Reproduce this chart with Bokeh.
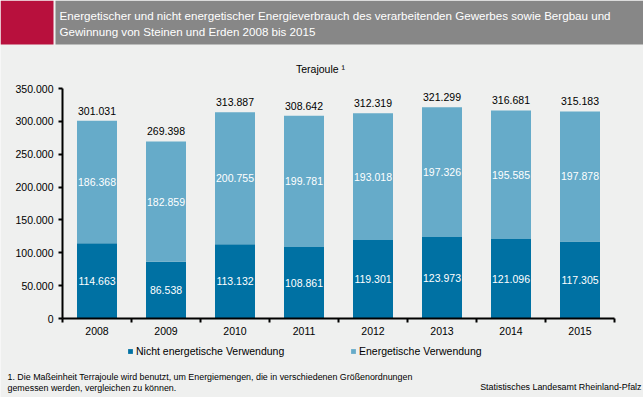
from bokeh.plotting import figure
from bokeh.models import (Range1d, FixedTicker, Label, BoxAnnotation, Legend, LegendItem,
                          ColumnDataSource)
from bokeh.core.properties import value
from bokeh.embed import file_html
from bokeh.resources import INLINE

# ---------------- data ----------------
years = ["2008", "2009", "2010", "2011", "2012", "2013", "2014", "2015"]
nicht_energetisch = [114663, 86538, 113132, 108861, 119301, 123973, 121096, 117305]
energetisch = [186368, 182859, 200755, 199781, 193018, 197326, 195585, 197878]
totals = [301031, 269398, 313887, 308642, 312319, 321299, 316681, 315183]
y_ticks = [0, 50000, 100000, 150000, 200000, 250000, 300000, 350000]
series_names = ["Nicht energetische Verwendung", "Energetische Verwendung"]
title_lines = ["Energetischer und nicht energetischer Energieverbrauch des verarbeitenden Gewerbes sowie Bergbau und",
               "Gewinnung von Steinen und Erden 2008 bis 2015"]
unit_text = "Terajoule \u00b9"
footnote_lines = ["1. Die Maßeinheit Terrajoule wird benutzt, um Energiemengen, die in verschiedenen Größenordnungen",
                  "gemessen werden, vergleichen zu können."]
source_text = "Statistisches Landesamt Rheinland-Pfalz"

# ---------------- layout / styles ----------------
W, H = 643, 397
AX_LEFT, AX_TOP, AX_BOTTOM, STEP = 62, 88, 318, 69   # pixel geometry of the plot area
Y_MAX = 350000
BG = "#EFF0EF"
DARK = "#0071A3"
LIGHT = "#66ABC9"
FONT_NAME = "Liberation Sans"
FONT = value(FONT_NAME)


def de(v):
    return f"{v:,}".replace(",", ".")


xs = list(range(len(years)))
src = ColumnDataSource(dict(
    x=xs,
    nicht=nicht_energetisch,
    top=[a + b for a, b in zip(nicht_energetisch, energetisch)],
    total=totals,
    mid_low=[a / 2 for a in nicht_energetisch],
    mid_up=[a + b / 2 for a, b in zip(nicht_energetisch, energetisch)],
    lab_low=[de(v) for v in nicht_energetisch],
    lab_up=[de(v) for v in energetisch],
    lab_tot=[de(v) for v in totals],
))

# whole canvas is the frame; ranges extended so the chart area sits at the right pixels
x0 = -0.5 - AX_LEFT / STEP
x1 = x0 + W / STEP
ppu = (AX_BOTTOM - AX_TOP) / Y_MAX
y0 = -(H - AX_BOTTOM) / ppu
y1 = Y_MAX + AX_TOP / ppu

p = figure(width=W, height=H, output_backend="svg", toolbar_location=None,
           x_range=Range1d(x0, x1), y_range=Range1d(y0, y1),
           min_border=0, background_fill_color=BG, border_fill_color=BG, outline_line_color=None)
p.xgrid.visible = False
p.ygrid.visible = False

r1 = p.vbar(x="x", width=40 / STEP, bottom=0, top="nicht", source=src, fill_color=DARK, line_color=None)
r2 = p.vbar(x="x", width=40 / STEP, bottom="nicht", top="top", source=src, fill_color=LIGHT, line_color=None)

p.text(x="x", y="mid_low", text="lab_low", source=src, text_align="center", text_baseline="middle",
       text_font=FONT, text_font_size="10.5px", text_color="white")
p.text(x="x", y="mid_up", text="lab_up", source=src, text_align="center", text_baseline="middle",
       text_font=FONT, text_font_size="10.5px", text_color="white")
p.text(x="x", y="total", text="lab_tot", source=src, text_align="center", text_baseline="middle",
       y_offset=-10, text_font=FONT, text_font_size="10.5px", text_color="black")

# axes (fixed inside the frame)
ya = p.yaxis[0]
ya.fixed_location = -0.5
ya.bounds = (0, Y_MAX)
ya.ticker = FixedTicker(ticks=y_ticks)
ya.major_label_overrides = {t: de(t) for t in y_ticks}
ya.minor_tick_line_color = None
ya.major_tick_in = 0
ya.major_tick_out = 4
ya.major_tick_line_width = 2
ya.axis_line_width = 2
ya.major_label_text_font = FONT_NAME
ya.major_label_text_font_size = "10.5px"
ya.major_label_text_color = "black"
ya.major_label_standoff = 5

xa = p.xaxis[0]
xa.fixed_location = 0
xa.bounds = (-0.5, len(years) - 0.5)
xa.ticker = FixedTicker(ticks=xs, minor_ticks=[i - 0.5 for i in range(len(years) + 1)])
xa.major_label_overrides = {i: y for i, y in zip(xs, years)}
xa.major_tick_line_color = None
xa.major_tick_in = 0
xa.major_tick_out = 0
xa.minor_tick_in = 0
xa.minor_tick_out = 4
xa.minor_tick_line_width = 2
xa.axis_line_width = 2
xa.major_label_text_font = FONT_NAME
xa.major_label_text_font_size = "10.5px"
xa.major_label_text_color = "black"
xa.major_label_standoff = 4


def sy(abs_y):
    return H - abs_y


# header
p.add_layout(BoxAnnotation(left=0, right=53, top=sy(0), bottom=sy(44), left_units="screen",
                           right_units="screen", top_units="screen", bottom_units="screen",
                           fill_color="#B8103D", fill_alpha=1, line_color=None))
p.add_layout(BoxAnnotation(left=55, right=W, top=sy(0), bottom=sy(44), left_units="screen",
                           right_units="screen", top_units="screen", bottom_units="screen",
                           fill_color="#878787", fill_alpha=1, line_color=None))
for ln, yy in zip(title_lines, [15, 31]):
    p.add_layout(Label(x=59, y=sy(yy), x_units="screen", y_units="screen", text=ln,
                       text_font=FONT_NAME, text_font_size="11.6px", text_color="white",
                       text_baseline="middle", text_align="left"))

p.add_layout(Label(x=320, y=sy(68), x_units="screen", y_units="screen", text=unit_text,
                   text_font=FONT_NAME, text_font_size="10.5px", text_color="black",
                   text_baseline="middle", text_align="center"))

# legends
for rr, name, lx in [(r1, series_names[0], 127), (r2, series_names[1], 350)]:
    lg = Legend(items=[LegendItem(label=name, renderers=[rr])], location=(lx, sy(351) - 6),
                orientation="horizontal", padding=0, margin=0, spacing=0,
                glyph_width=6, glyph_height=6, label_height=12, label_standoff=3,
                label_text_font=FONT_NAME, label_text_font_size="10.5px",
                label_text_color="black", border_line_color=None, background_fill_alpha=0)
    p.add_layout(lg)

# footnote & source
for ln, yy in zip(footnote_lines, [376, 387]):
    p.add_layout(Label(x=7, y=sy(yy), x_units="screen", y_units="screen", text=ln,
                       text_font=FONT_NAME, text_font_size="8.9px", text_color="black",
                       text_baseline="middle", text_align="left"))
p.add_layout(Label(x=641, y=sy(386), x_units="screen", y_units="screen", text=source_text,
                   text_font=FONT_NAME, text_font_size="8.9px", text_color="black",
                   text_baseline="middle", text_align="right"))

open("out.html", "w").write(file_html(p, INLINE))
